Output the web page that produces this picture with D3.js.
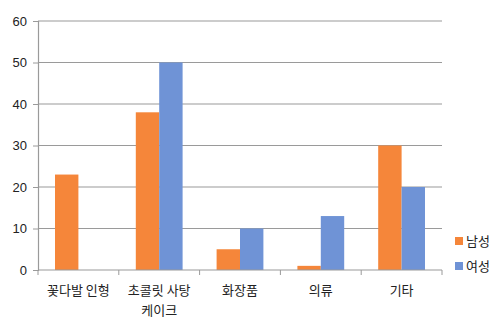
<!DOCTYPE html>
<html>
<head>
<meta charset="utf-8">
<script src="https://cdn.jsdelivr.net/npm/d3@7/dist/d3.min.js"></script>
<style>
  body { margin: 0; background: #fff; }
  text { font-family: "Noto Sans CJK KR", "Noto Sans", sans-serif; fill: #222; }
</style>
</head>
<body>
<div id="chart"></div>
<script>
// data
var categories = [["꽃다발 인형"], ["초콜릿 사탕", "케이크"], ["화장품"], ["의류"], ["기타"]];
var seriesNames = ["남성", "여성"];
var maleValues = [23, 38, 5, 1, 30];
var femaleValues = [0, 50, 10, 13, 20];
var yTicks = [0, 10, 20, 30, 40, 50, 60];
var colors = ["#f5863a", "#6f93d6"];

var W = 500, H = 328;
var margin = {top: 21, right: 58, bottom: 58, left: 38};
var width = W - margin.left - margin.right,
    height = H - margin.top - margin.bottom;

var svg = d3.select("#chart").append("svg")
  .attr("width", W).attr("height", H);
var g = svg.append("g")
  .attr("transform", "translate(" + margin.left + "," + margin.top + ")");

var idx = d3.range(categories.length);
var x = d3.scaleBand().domain(idx).range([0, width]).paddingInner(0).paddingOuter(0);
var x1 = d3.scaleBand().domain(seriesNames).range([17, x.bandwidth() - 17]);
var y = d3.scaleLinear().domain([0, 60]).range([height, 0]);

// grid lines
g.selectAll(".grid").data(yTicks.slice(1)).join("line")
  .attr("x1", 0).attr("x2", width)
  .attr("y1", function(d){ return y(d); }).attr("y2", function(d){ return y(d); })
  .attr("stroke", "#9a9a9a").attr("stroke-width", 1.2);

// y axis
var yAxis = g.append("g")
  .call(d3.axisLeft(y).tickValues(yTicks).tickSize(5).tickPadding(6));
yAxis.select(".domain").attr("stroke", "#9a9a9a").attr("stroke-width", 1.2);
yAxis.selectAll(".tick line").attr("stroke", "#9a9a9a");
yAxis.selectAll("text").style("font-size", "13px").style("fill", "#222")
  .style("font-family", "'Liberation Sans', Arial, sans-serif");

// bars
var data = [];
idx.forEach(function(i){
  data.push({cat: i, s: seriesNames[0], v: maleValues[i], c: colors[0]});
  data.push({cat: i, s: seriesNames[1], v: femaleValues[i], c: colors[1]});
});
g.selectAll(".bar").data(data).join("rect")
  .attr("x", function(d){ return x(d.cat) + x1(d.s); })
  .attr("y", function(d){ return y(d.v); })
  .attr("width", x1.bandwidth())
  .attr("height", function(d){ return height - y(d.v); })
  .attr("fill", function(d){ return d.c; });

// x axis
var xAxis = g.append("g").attr("transform", "translate(0," + height + ")");
xAxis.append("line").attr("x1", 0).attr("x2", width).attr("y1", 0).attr("y2", 0)
  .attr("stroke", "#9a9a9a").attr("stroke-width", 1.2);
xAxis.selectAll(".sep").data(d3.range(categories.length + 1)).join("line")
  .attr("x1", function(d){ return d * x.bandwidth(); })
  .attr("x2", function(d){ return d * x.bandwidth(); })
  .attr("y1", 0).attr("y2", 5)
  .attr("stroke", "#9a9a9a");
var lbl = xAxis.selectAll(".lbl").data(idx).join("text")
  .attr("text-anchor", "middle")
  .attr("transform", function(d){ return "translate(" + (x(d) + x.bandwidth() / 2) + ",25)"; })
  .style("font-size", "13px");
lbl.selectAll("tspan").data(function(d){ return categories[d]; }).join("tspan")
  .attr("x", 0).attr("dy", function(d, i){ return i === 0 ? 0 : 20; })
  .text(function(d){ return d; });

// legend
var leg = svg.append("g").attr("transform", "translate(455,237)");
seriesNames.forEach(function(n, i){
  var r = leg.append("g").attr("transform", "translate(0," + (i * 25) + ")");
  r.append("rect").attr("width", 8).attr("height", 8).attr("fill", colors[i]);
  r.append("text").attr("x", 11).attr("y", 9).style("font-size", "13px").text(n);
});
</script>
</body>
</html>
